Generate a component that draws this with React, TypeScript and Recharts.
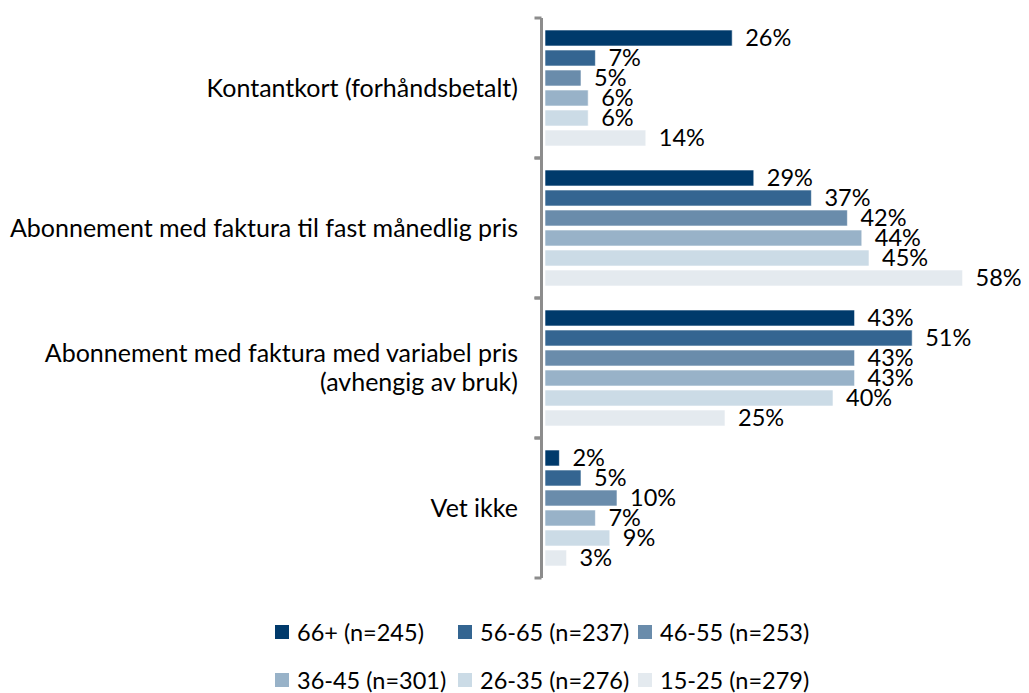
import { Bar, BarChart, LabelList, Legend, XAxis, YAxis } from "recharts";

const categories = [
  "Kontantkort (forhåndsbetalt)",
  "Abonnement med faktura til fast månedlig pris",
  "Abonnement med faktura med variabel pris (avhengig av bruk)",
  "Vet ikke",
];

const seriesNames = ["66+ (n=245)", "56-65 (n=237)", "46-55 (n=253)", "36-45 (n=301)", "26-35 (n=276)", "15-25 (n=279)"];
const colors = ["#003a6b", "#346591", "#6a8cab", "#98b2c8", "#cbdbe6", "#e4eaef"];

const age66 = [26, 29, 43, 2];
const age56 = [7, 37, 51, 5];
const age46 = [5, 42, 43, 10];
const age36 = [6, 44, 43, 7];
const age26 = [6, 45, 40, 9];
const age15 = [14, 58, 25, 3];

const series = [age66, age56, age46, age36, age26, age15];
const keys = ["s0", "s1", "s2", "s3", "s4", "s5"];

const data = categories.map((name, i) => {
  const row: Record<string, string | number> = { name };
  series.forEach((s, j) => (row[keys[j]] = s[i]));
  return row;
});

const font = "Lato, 'Open Sans', sans-serif";
const W = 1021;
const H = 685;
const margin = { top: 10, right: 52, bottom: 41, left: 0 };
const legendH = 74;
const band = (H - margin.top - margin.bottom - legendH) / categories.length;
const axisGray = "#8c8c8c";

function CategoryTick(props: any) {
  const { x, y, payload } = props;
  const text: string = payload.value;
  let lines = [text];
  const idx = text.indexOf("(avhengig");
  if (idx > 0) lines = [text.slice(0, idx).trim(), text.slice(idx)];
  const lh = 29;
  const start = y - ((lines.length - 1) * lh) / 2;
  const ax = x - 3.5;
  return (
    <g>
      <line x1={ax} x2={ax} y1={y - band / 2} y2={y + band / 2} stroke={axisGray} strokeWidth={3} />
      <line x1={ax} x2={ax - 7} y1={y - band / 2} y2={y - band / 2} stroke={axisGray} strokeWidth={3} />
      <line x1={ax} x2={ax - 7} y1={y + band / 2} y2={y + band / 2} stroke={axisGray} strokeWidth={3} />
      <text fontSize={25} fill="#000" fontFamily={font} textAnchor="end">
        {lines.map((l, i) => (
          <tspan key={i} x={x - 27} y={start + i * lh} dy="0.35em">
            {l}
          </tspan>
        ))}
      </text>
    </g>
  );
}

function LegendContent() {
  return (
    <div
      style={{
        display: "grid",
        gridTemplateColumns: "183px 180px 180px",
        rowGap: 24,
        marginLeft: 267,
        fontFamily: font,
        fontSize: 23.5,
        color: "#000",
        whiteSpace: "nowrap",
      }}
    >
      {seriesNames.map((n, i) => (
        <div key={n} style={{ display: "flex", alignItems: "center", height: 24 }}>
          <span style={{ width: 14, height: 14, background: colors[i], marginRight: 8, display: "inline-block", flexShrink: 0 }} />
          {n}
        </div>
      ))}
    </div>
  );
}

export default function App() {
  return (
    <BarChart width={W} height={H} data={data} layout="vertical" margin={margin} barSize={16} barGap={4}>
      <XAxis type="number" domain={[0, 60]} hide />
      <YAxis
        type="category"
        dataKey="name"
        width={537}
        axisLine={false}
        tickLine={false}
        tickSize={0}
        tickMargin={0}
        tick={<CategoryTick />}
      />
      <Legend
        verticalAlign="bottom"
        align="left"
        height={legendH}
        content={<LegendContent />}
        wrapperStyle={{ top: 612, bottom: "auto" }}
      />
      {keys.map((k, i) => (
        <Bar key={k} dataKey={k} fill={colors[i]} stroke="#fff" strokeWidth={0.6} isAnimationActive={false}>
          <LabelList
            dataKey={k}
            position="right"
            offset={13}
            formatter={(v: any) => `${v}%`}
            style={{ fontSize: 23.5, fill: "#000", fontFamily: font }}
          />
        </Bar>
      ))}
    </BarChart>
  );
}
